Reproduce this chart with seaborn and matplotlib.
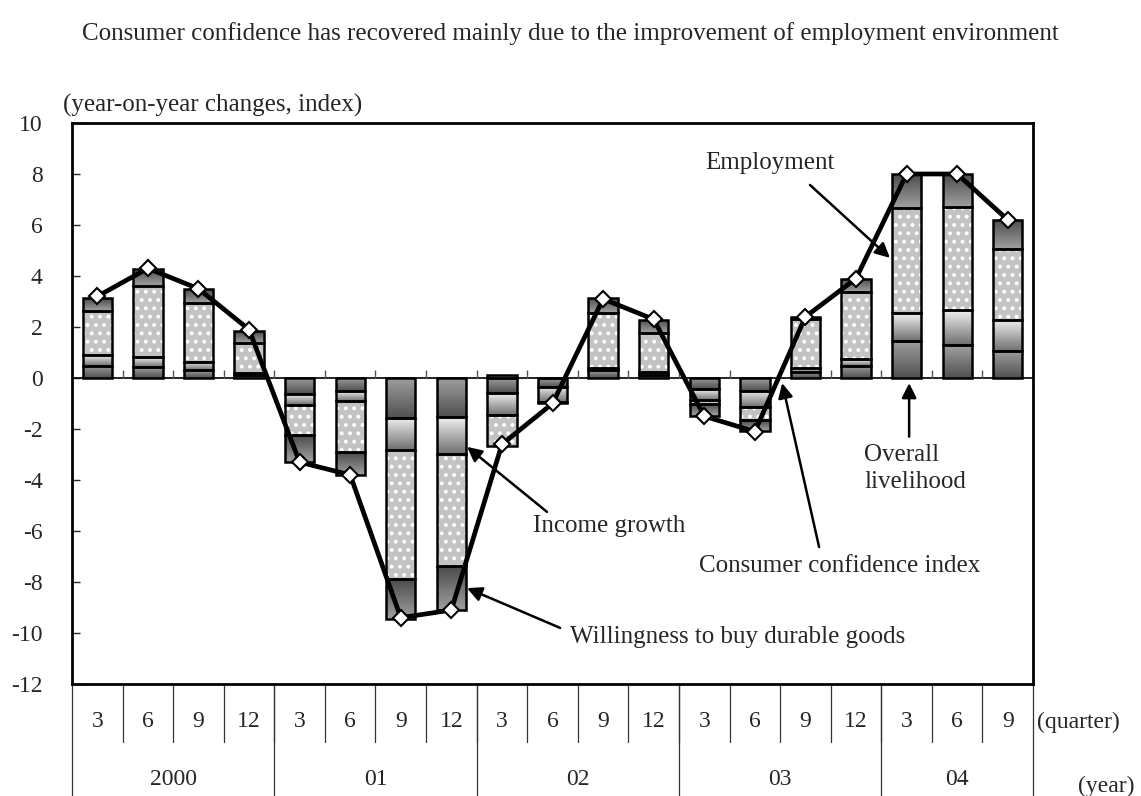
import numpy as np
import matplotlib
matplotlib.use("Agg")
import matplotlib.pyplot as plt
from matplotlib.colors import LinearSegmentedColormap
import seaborn as sns

# quarter / year labels
quarters = ["3", "6", "9", "12", "3", "6", "9", "12", "3", "6", "9", "12",
            "3", "6", "9", "12", "3", "6", "9"]
years = ["2000", "01", "02", "03", "04"]
year_bounds = [-0.5, 3.5, 7.5, 11.5, 15.5, 18.5]

# contributions (year-on-year changes, index)
overall = [0.48, 0.42, 0.31, 0.10, -0.63, -0.52, -1.57, -1.53, -0.59, -0.35,
           0.30, 0.12, -0.45, -0.50, 0.25, 0.48, 1.47, 1.28, 1.07]
income = [0.43, 0.39, 0.33, 0.08, -0.42, -0.37, -1.27, -1.44, -0.85, -0.60,
          0.09, 0.10, -0.42, -0.65, 0.14, 0.26, 1.07, 1.37, 1.22]
employment = [1.73, 2.79, 2.31, 1.20, -1.17, -2.03, -5.04, -4.42, -1.22, -0.05,
              2.15, 1.53, -0.15, -0.50, 1.91, 2.62, 4.12, 4.05, 2.76]
willingness = [0.48, 0.67, 0.53, 0.46, -1.09, -0.87, -1.57, -1.70, 0.13, 0.0,
               0.61, 0.54, -0.48, -0.42, 0.10, 0.53, 1.34, 1.30, 1.15]
cci = [3.2, 4.3, 3.5, 1.9, -3.3, -3.8, -9.4, -9.1, -2.6, -1.0, 3.1, 2.3,
       -1.5, -2.1, 2.4, 3.9, 8.0, 8.0, 6.2]

FS = 18      # annotations, title
FS_TICK = 17  # axis numbers and the table under the plot
BAR_W = 0.58


def gradient_fill(ax, bars, colors):
    """Fill each bar with a vertical grey gradient (top -> bottom)."""
    cmap = LinearSegmentedColormap.from_list("g", colors)
    grad = np.linspace(0, 1, 64).reshape(-1, 1)
    for b in bars:
        h = b.get_height()
        if h == 0:
            continue
        x0, y0, w = b.get_x(), b.get_y(), b.get_width()
        lo, hi = min(y0, y0 + h), max(y0, y0 + h)
        im = ax.imshow(grad, cmap=cmap, extent=(x0, x0 + w, lo, hi),
                       origin="upper", aspect="auto", zorder=1.8)
        im.set_clip_path(b)


def stacked_bars(ax, x):
    pos = np.zeros(len(x))
    neg = np.zeros(len(x))
    series = [
        (overall, ["#a0a0a0", "#505050"]),
        (income, ["#f0f0f0", "#707070"]),
        (employment, None),
        (willingness, ["#4a4a4a", "#a0a0a0"]),
    ]
    for vals, grad in series:
        vals = np.array(vals)
        bottom = np.where(vals >= 0, pos, neg)
        if grad is None:
            ax.bar(x, vals, bottom=bottom, width=BAR_W, color="#c3c3c3",
                   edgecolor="white", hatch="..", linewidth=0, zorder=1.8)
            ax.bar(x, vals, bottom=bottom, width=BAR_W, facecolor="none",
                   edgecolor="black", linewidth=1.8, zorder=2)
        else:
            bars = ax.bar(x, vals, bottom=bottom, width=BAR_W, facecolor="none",
                          edgecolor="black", linewidth=1.8, zorder=2)
            gradient_fill(ax, bars, grad)
        pos = pos + np.where(vals >= 0, vals, 0)
        neg = neg + np.where(vals < 0, vals, 0)


def draw_table(ax):
    trans = ax.get_xaxis_transform()
    q_row, y_row = -0.1034, -0.2
    for i in range(len(quarters)):
        ax.text(i, -0.0677, quarters[i], transform=trans, ha="center",
                va="center", fontsize=FS_TICK)
    for b in np.arange(0.5, len(quarters) - 1, 1.0):
        ax.plot([b, b], [0, q_row], transform=trans, color="#333333",
                lw=0.9, clip_on=False)
    for b in year_bounds:
        ax.plot([b, b], [0, y_row], transform=trans, color="#333333",
                lw=0.9, clip_on=False)
    for i, yr in enumerate(years):
        mid = (year_bounds[i] + year_bounds[i + 1]) / 2
        ax.text(mid, -0.171, yr, transform=trans, ha="center", va="center",
                fontsize=FS_TICK)
    ax.text(1.0038, -0.0677, "(quarter)", transform=ax.transAxes, ha="left",
            va="center", fontsize=FS_TICK)
    ax.text(1.106, -0.182, "(year)", transform=ax.transAxes, ha="right",
            va="center", fontsize=FS_TICK)


def annotate(ax):
    arrow = dict(arrowstyle="-|>", color="black", lw=1.8, mutation_scale=22,
                 shrinkA=0, shrinkB=0)
    ax.text(14.58, 8.43, "Employment", ha="right", va="center", fontsize=FS)
    ax.annotate("", xy=(15.67, 4.71), xytext=(14.09, 7.57), arrowprops=arrow)

    ax.text(15.16, -3.55, "Overall\nlivelihood", ha="left", va="center",
            fontsize=FS, linespacing=1.25)
    ax.annotate("", xy=(16.05, -0.2), xytext=(16.05, -2.3), arrowprops=arrow)

    ax.text(8.61, -5.8, "Income growth", ha="left", va="center", fontsize=FS)
    ax.annotate("", xy=(7.31, -2.7), xytext=(8.89, -5.25), arrowprops=arrow)

    ax.text(9.35, -10.16, "Willingness to buy durable goods", ha="left",
            va="center", fontsize=FS)
    ax.annotate("", xy=(7.31, -8.24), xytext=(9.15, -9.8), arrowprops=arrow)

    ax.text(11.9, -7.37, "Consumer confidence index", ha="left", va="center",
            fontsize=FS)
    ax.annotate("", xy=(13.54, -0.2), xytext=(14.27, -6.63), arrowprops=arrow)


def main():
    sns.set_theme(style="white")
    plt.rcParams["font.family"] = ["Liberation Serif", "DejaVu Serif"]
    plt.rcParams["axes.unicode_minus"] = False
    plt.rcParams["hatch.linewidth"] = 1.6

    fig = plt.figure(figsize=(11.41, 7.96), dpi=100)
    ax = fig.add_axes([0.0631, 0.1407, 0.8423, 0.7048])

    x = np.arange(len(cci))
    ax.axhline(0, color="black", lw=1.2, zorder=1)
    ax.vlines(np.arange(0.5, len(cci) - 1, 1.0), 0, 0.3, color="#555555",
              lw=1, zorder=1)
    stacked_bars(ax, x)

    sns.lineplot(x=x, y=cci, ax=ax, color="black", lw=3.4, marker="D",
                 markersize=8, markerfacecolor="white",
                 markeredgecolor="black", markeredgewidth=1.5, zorder=5)

    ax.set_xlim(-0.5, len(cci) - 0.5)
    ax.set_ylim(-12, 10)
    ax.set_yticks(range(-12, 11, 2))
    ax.set_xticks([])
    ax.tick_params(axis="y", direction="in", length=6, width=1, pad=21,
                   labelsize=FS_TICK, left=True)
    for s in ax.spines.values():
        s.set_color("black")
        s.set_linewidth(2)
    ax.set_xlabel("")
    ax.set_ylabel("")

    draw_table(ax)
    annotate(ax)

    fig.text(0.0552, 0.868, "(year-on-year changes, index)", ha="left",
             va="center", fontsize=FS)
    fig.text(0.5, 0.9585, "Consumer confidence has recovered mainly due to "
             "the improvement of employment environment", ha="center",
             va="center", fontsize=FS)

    fig.savefig("out.png", dpi=100)


if __name__ == "__main__":
    main()
